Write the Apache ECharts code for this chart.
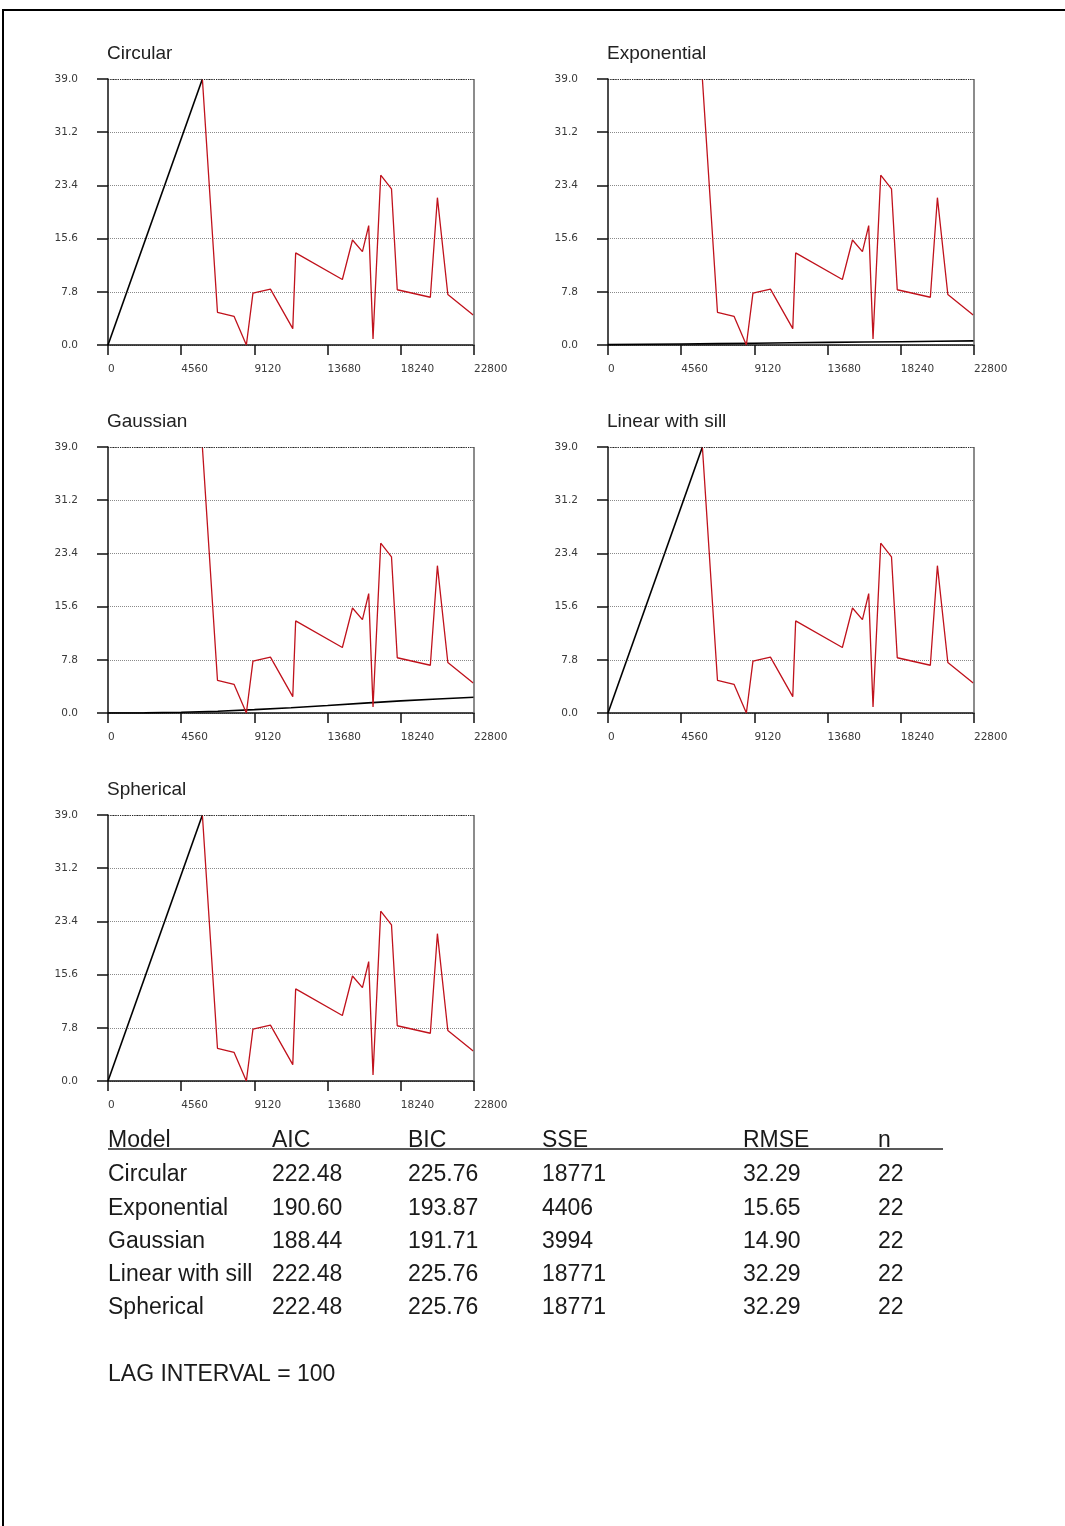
<!DOCTYPE html>
<html>
<head>
<meta charset="utf-8">
<script src="https://cdn.jsdelivr.net/npm/echarts@6/dist/echarts.min.js"></script>
<style>
html, body { margin: 0; padding: 0; background: #fff; }
#chart { width: 1065px; height: 1526px; }
</style>
</head>
<body>
<div id="chart"></div>
<script>
// Experimental semivariogram: lag distance vs semivariance
const lagDist = [5880, 6820, 7850, 8620, 9030, 10120, 11510, 11690, 14600, 15230, 15850, 16240, 16510, 16990, 17660, 18020, 20080, 20520, 21170, 22750];
const semivariance = [39.0, 4.8, 4.2, 0.0, 7.6, 8.2, 2.4, 13.5, 9.6, 15.4, 13.7, 17.5, 0.9, 24.9, 22.9, 8.1, 7.0, 21.6, 7.4, 4.4];

// Fitted model curves
const sillModelX = [0, 5880];
const circularY = [0, 39.0];
const linearSillY = [0, 39.0];
const sphericalY = [0, 39.0];
const curveX = [0, 2280, 4560, 6840, 9120, 11400, 13680, 15960, 18240, 20520, 22800];
const exponentialY = [0.05, 0.10, 0.15, 0.20, 0.26, 0.32, 0.38, 0.43, 0.48, 0.54, 0.60];
const gaussianY = [0.0, 0.02, 0.10, 0.26, 0.50, 0.78, 1.10, 1.45, 1.78, 2.05, 2.30];

// Axis ticks
const xTicks = [0, 4560, 9120, 13680, 18240, 22800];
const yTicks = [0.0, 7.8, 15.6, 23.4, 31.2, 39.0];

// Goodness-of-fit summary
const models = ['Circular', 'Exponential', 'Gaussian', 'Linear with sill', 'Spherical'];
const aic = [222.48, 190.60, 188.44, 222.48, 222.48];
const bic = [225.76, 193.87, 191.71, 225.76, 225.76];
const sse = [18771, 4406, 3994, 18771, 18771];
const rmse = [32.29, 15.65, 14.90, 32.29, 32.29];
const nPairs = [22, 22, 22, 22, 22];
const lagInterval = 100;

const fits = [
  [sillModelX, circularY],
  [curveX, exponentialY],
  [curveX, gaussianY],
  [sillModelX, linearSillY],
  [sillModelX, sphericalY]
];

const zip = (xs, ys) => xs.map((x, i) => [x, ys[i]]);

// panel layout (left, top of each plot area)
const panelPos = [[108, 79], [608, 79], [108, 447], [608, 447], [108, 815]];
const PW = 366, PH = 266;

const xMin = xTicks[0], xMax = xTicks[xTicks.length - 1], xStep = xTicks[1] - xTicks[0];
const yMin = yTicks[0], yMax = yTicks[yTicks.length - 1], yStep = yTicks[1] - yTicks[0];

const tickFont = { fontFamily: 'DejaVu Sans', fontSize: 10.5, color: '#3a3a3a' };
const axisStroke = { color: '#111', width: 1.5 };

const grids = [], xAxes = [], yAxes = [], series = [], titles = [];

models.forEach((name, i) => {
  const [L, T] = panelPos[i];
  grids.push({ left: L, top: T, width: PW, height: PH });
  titles.push({
    text: name, left: L - 1, top: T - 35, padding: 0,
    textStyle: { fontFamily: 'Liberation Sans', fontSize: 19, fontWeight: 'normal', color: '#222' }
  });
  xAxes.push({
    gridIndex: i, type: 'value', min: xMin, max: xMax, interval: xStep,
    axisLine: { show: true, onZero: false, lineStyle: axisStroke },
    axisTick: { show: true, length: 10, lineStyle: axisStroke },
    axisLabel: Object.assign({ align: 'left', margin: 19, formatter: v => String(v) }, tickFont),
    splitLine: { show: false }
  });
  yAxes.push({
    gridIndex: i, type: 'value', min: yMin, max: yMax, interval: yStep,
    axisLine: { show: true, onZero: false, lineStyle: axisStroke },
    axisTick: { show: true, length: 11, lineStyle: axisStroke },
    axisLabel: Object.assign({ margin: 30, formatter: v => v.toFixed(1) }, tickFont),
    splitLine: { show: true, lineStyle: { type: 'dotted', color: '#8a8a8a', width: 1 } }
  });
  series.push({
    type: 'line', xAxisIndex: i, yAxisIndex: i,
    data: zip(fits[i][0], fits[i][1]),
    symbol: 'none', silent: true,
    lineStyle: { color: '#000', width: 1.6 }
  });
  series.push({
    type: 'line', xAxisIndex: i, yAxisIndex: i,
    data: zip(lagDist, semivariance),
    symbol: 'none', silent: true,
    lineStyle: { color: '#c0121c', width: 1.3 },
    markLine: {
      silent: true, symbol: 'none', label: { show: false }, animation: false,
      data: [
        { yAxis: yMax, lineStyle: { type: 'dotted', color: '#222', width: 1.2 } },
        { xAxis: xMax, lineStyle: { type: 'solid', color: '#666', width: 1.5 } }
      ]
    }
  });
});

// summary table drawn as text
const colX = [108, 272, 408, 542, 743, 878];
const headerY = 1141, rowY0 = 1175, rowStep = 33.2;
const tableFont = '23px "Liberation Sans", Arial, sans-serif';
const cell = (text, x, y) => ({
  type: 'text', x: x, y: y, silent: true,
  style: { text: text, font: tableFont, fill: '#1a1a1a', align: 'left', verticalAlign: 'middle' }
});
const graphics = [];
['Model', 'AIC', 'BIC', 'SSE', 'RMSE', 'n'].forEach((h, c) => graphics.push(cell(h, colX[c], headerY)));
graphics.push({
  type: 'line', silent: true,
  shape: { x1: 108, y1: 1149, x2: 943, y2: 1149 },
  style: { stroke: '#222', lineWidth: 1.5 }
});
models.forEach((m, r) => {
  const y = rowY0 + r * rowStep;
  const vals = [m, aic[r].toFixed(2), bic[r].toFixed(2), String(sse[r]), rmse[r].toFixed(2), String(nPairs[r])];
  vals.forEach((v, c) => graphics.push(cell(v, colX[c], y)));
});
graphics.push(cell('LAG INTERVAL = ' + lagInterval, 108, 1375));
// page frame
graphics.push({
  type: 'rect', silent: true,
  shape: { x: 3, y: 10, width: 1300, height: 1700 },
  style: { fill: 'none', stroke: '#000', lineWidth: 2 }
});

const chart = echarts.init(document.getElementById('chart'), null, { renderer: 'canvas' });
chart.setOption({
  animation: false,
  backgroundColor: '#fff',
  title: titles,
  grid: grids,
  xAxis: xAxes,
  yAxis: yAxes,
  series: series,
  graphic: graphics
});
</script>
</body>
</html>
